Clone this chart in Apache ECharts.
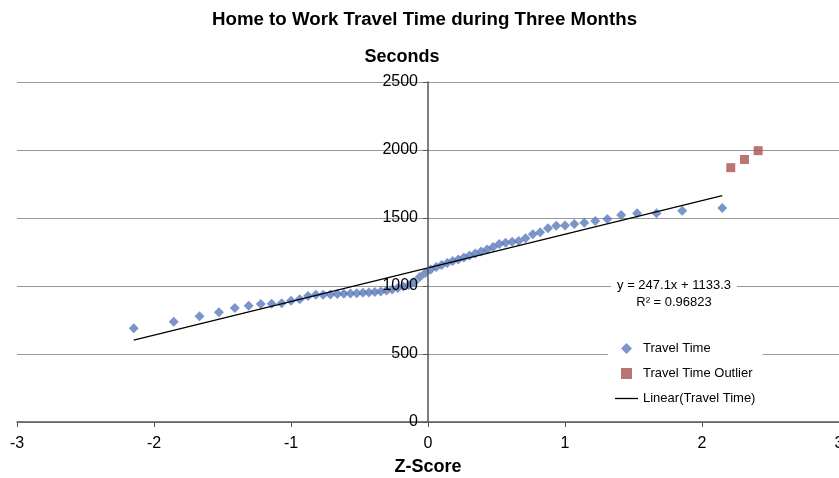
<!DOCTYPE html>
<html>
<head>
<meta charset="utf-8">
<title>Home to Work Travel Time</title>
<script src="https://cdn.jsdelivr.net/npm/echarts@6/dist/echarts.min.js"></script>
<style>
  html, body { margin: 0; padding: 0; background: #fff; }
  #chart { width: 839px; height: 478px; }
</style>
</head>
<body>
<div id="chart"></div>
<script>
// z-score of each trip (normal scores), sorted
var zScores = [
  -2.148, -1.856, -1.668, -1.526, -1.410, -1.309, -1.221, -1.141, -1.068, -1.000,
  -0.936, -0.876, -0.819, -0.765, -0.712, -0.662, -0.614, -0.566, -0.520, -0.475,
  -0.431, -0.388, -0.345, -0.303, -0.262, -0.221, -0.180, -0.140, -0.100, -0.060,
  -0.020, 0.020, 0.060, 0.100, 0.140, 0.180, 0.221, 0.262, 0.303, 0.345,
  0.388, 0.431, 0.475, 0.520, 0.566, 0.614, 0.662, 0.712, 0.765, 0.819,
  0.876, 0.936, 1.000, 1.068, 1.141, 1.221, 1.309, 1.410, 1.526, 1.668,
  1.856, 2.148
]
// travel time in seconds
var travelTime = [
  689, 737, 777, 807, 838, 855, 868, 870, 873, 892,
  902, 926, 936, 936, 938, 941, 943, 945, 947, 950,
  953, 956, 960, 966, 975, 985, 996, 1007, 1029, 1066,
  1096, 1121, 1140, 1154, 1169, 1184, 1195, 1210, 1224, 1239,
  1254, 1268, 1287, 1309, 1318, 1325, 1330, 1351, 1380, 1395,
  1424, 1443, 1445, 1456, 1465, 1478, 1493, 1522, 1535, 1535,
  1554, 1574
]
var outlierZ = [2.21, 2.31, 2.41]
var outlierTime = [1870, 1930, 1995]
// trendline end points (y = 247.1x + 1133.3)
var trendZ = [-2.148, 2.148]
var trendTime = [602.5, 1664.1]
var xTicks = [-3, -2, -1, 0, 1, 2, 3]
var yTicks = [0, 500, 1000, 1500, 2000, 2500]

function pairs (xs, ys) {
  return xs.map(function (x, i) { return [x, ys[i]] })
}

var font = 'Liberation Sans, Arial, sans-serif'
var gridLeft = 17
var gridWidth = 822
var yMin = yTicks[0]
var yMax = yTicks[yTicks.length - 1]
var chart = echarts.init(document.getElementById('chart'))
chart.setOption({
  animation: false,
  textStyle: { fontFamily: font, color: '#000' },
  title: {
    text: 'Home to Work Travel Time during Three Months',
    left: 207,
    top: 5,
    textStyle: { fontSize: 18.7, fontWeight: 'bold', color: '#000', fontFamily: font }
  },
  grid: { left: gridLeft, width: gridWidth, top: 82, bottom: 56, containLabel: false, outerBoundsMode: 'none' },
  legend: {
    orient: 'vertical',
    left: 608,
    top: 337,
    padding: [5, 7, 5, 7],
    backgroundColor: '#fff',
    itemWidth: 23,
    itemHeight: 11,
    itemGap: 12,
    textStyle: { fontSize: 13, color: '#000', fontFamily: font },
    data: [
      { name: 'Travel Time', icon: 'path://M5,0 L10,5 L5,10 L0,5 Z' },
      { name: 'Travel Time Outlier', icon: 'path://M0,0 L10,0 L10,10 L0,10 Z' },
      { name: 'Linear(Travel Time)', icon: 'path://M0,0 L23,0 L23,1.3 L0,1.3 Z' }
    ]
  },
  xAxis: {
    type: 'value',
    min: xTicks[0],
    max: xTicks[xTicks.length - 1],
    interval: 1,
    name: 'Z-Score',
    nameLocation: 'middle',
    nameGap: 36,
    nameTextStyle: { fontSize: 18, fontWeight: 'bold', color: '#000', fontFamily: font },
    axisLine: { onZero: false, lineStyle: { color: '#555', width: 1.5 } },
    axisTick: { show: true, length: 5, lineStyle: { color: '#555' } },
    axisLabel: { fontSize: 16, color: '#000', margin: 14, fontFamily: font },
    splitLine: { show: false }
  },
  yAxis: [
    {
      // gridlines only, under the points
      type: 'value',
      min: yMin,
      max: yMax,
      interval: 500,
      axisLine: { show: false },
      axisTick: { show: false },
      axisLabel: { show: false },
      splitLine: { show: true, lineStyle: { color: '#999', width: 1 } }
    },
    {
      // axis line, ticks and labels at z = 0, drawn over the points
      type: 'value',
      min: yMin,
      max: yMax,
      interval: 500,
      position: 'left',
      offset: -gridWidth / 2,
      z: 10,
      name: 'Seconds',
      nameLocation: 'end',
      nameGap: 16,
      nameTextStyle: { fontSize: 18, fontWeight: 'bold', color: '#000', fontFamily: font, padding: [0, 52, 0, 0] },
      axisLine: { show: true, onZero: false, lineStyle: { color: '#555', width: 1.5 } },
      axisTick: { show: true, length: 5, lineStyle: { color: '#555' } },
      axisLabel: {
        fontSize: 16,
        color: '#000',
        margin: 10,
        fontFamily: font,
        formatter: function (v) { return String(v) }
      },
      splitLine: { show: false }
    }
  ],
  series: [
    {
      name: 'Travel Time',
      type: 'scatter',
      symbol: 'diamond',
      symbolSize: 10,
      itemStyle: { color: '#5A7ABC' },
      data: pairs(zScores, travelTime)
    },
    {
      name: 'Travel Time Outlier',
      type: 'scatter',
      symbol: 'rect',
      symbolSize: 9,
      itemStyle: { color: '#A9514E' },
      data: pairs(outlierZ, outlierTime)
    },
    {
      name: 'Linear(Travel Time)',
      type: 'line',
      symbol: 'none',
      z: 5,
      lineStyle: { color: '#000', width: 1.3 },
      itemStyle: { color: '#000' },
      data: pairs(trendZ, trendTime)
    }
  ],
  graphic: [
    {
      type: 'text',
      x: 674,
      y: 275,
      z: 10,
      style: {
        text: 'y = 247.1x + 1133.3\nR² = 0.96823',
        align: 'center',
        verticalAlign: 'top',
        font: '13px ' + font,
        lineHeight: 17,
        fill: '#000',
        backgroundColor: '#fff',
        padding: [2, 6, 2, 6]
      }
    }
  ]
})
</script>
</body>
</html>
